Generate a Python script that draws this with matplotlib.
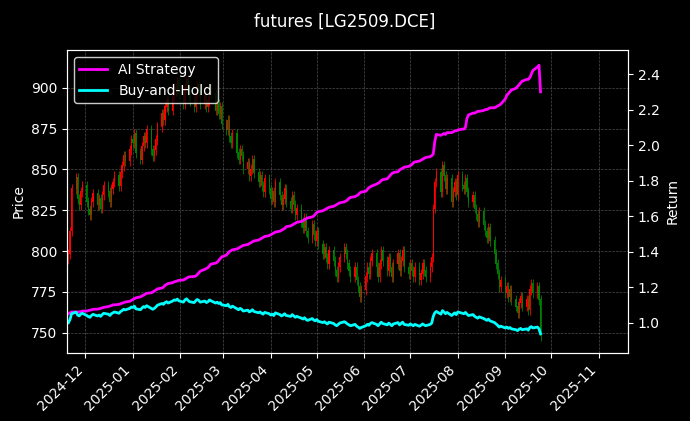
import matplotlib
matplotlib.use("Agg")
import matplotlib.pyplot as plt
import matplotlib.dates as mdates
import numpy as np
import pandas as pd

close = [798, 812, 838, 845, 832,  828, 836, 840, 830, 825,  822, 830, 835, 828, 832,
         826, 834, 840, 836, 830,  838, 842, 846, 840, 848,  852, 858, 855, 862, 868,
         866, 872, 860, 856, 864,  870, 866, 874, 862, 858,  862, 868, 876, 884, 880,
         888, 892, 886, 895, 900,  898, 904, 896, 890, 900,  905, 898, 892, 888, 896,
         902, 898, 890, 895, 888,  892, 900, 896, 886, 890,  884, 888, 878, 874, 880,
         870, 866, 872, 860, 856,  862, 858, 850, 854, 846,  850, 856, 848, 842, 846,
         840, 836, 844, 838, 832,  836, 830, 842, 834, 828,  832, 838, 830, 826, 834,
         828, 822, 826, 818, 814,  820, 812, 808, 816, 810,  806, 812, 804, 798, 802,
         796, 792, 800, 794, 788,  784, 790, 796, 802, 798,  792, 788, 784, 790, 782,
         778, 772, 776, 784, 790,  786, 794, 798, 790, 784,  792, 800, 794, 788, 796,
         790, 784, 792, 798, 788,  794, 800, 790, 786, 792,  788, 784, 790, 782, 786,
         792, 788, 784, 790, 796,  826, 842, 848, 836, 852,  846, 838, 844, 830, 836,
         842, 834, 846, 840, 838,  844, 836, 830, 834, 826,  822, 818, 824, 816, 812,
         808, 814, 806, 798, 792,  786, 778, 782, 774, 778,  772, 776, 770, 766, 762,
         768, 772, 766, 770, 764,  776, 780, 774, 778, 770,  748]
first_open = 795

ai = [1.05, 1.055, 1.06, 1.06, 1.06,  1.06, 1.062, 1.065, 1.065, 1.068,  1.07, 1.072, 1.075, 1.076, 1.078,
      1.08, 1.083, 1.086, 1.09, 1.093,  1.096, 1.10, 1.10, 1.103, 1.106,  1.11, 1.112, 1.116, 1.12, 1.125,
      1.13, 1.135, 1.14, 1.145, 1.15,  1.155, 1.16, 1.165, 1.168, 1.172,  1.178, 1.183, 1.19, 1.195, 1.20,
      1.21, 1.215, 1.22, 1.225, 1.23,  1.232, 1.235, 1.238, 1.24, 1.245,  1.25, 1.255, 1.258, 1.26, 1.262,
      1.27, 1.28, 1.29, 1.30, 1.305,  1.31, 1.32, 1.33, 1.335, 1.34,  1.35, 1.36, 1.37, 1.38, 1.39,
      1.40, 1.405, 1.41, 1.415, 1.42,  1.425, 1.43, 1.435, 1.44, 1.445,  1.45, 1.455, 1.46, 1.465, 1.47,
      1.475, 1.48, 1.485, 1.49, 1.495,  1.50, 1.505, 1.51, 1.515, 1.52,  1.525, 1.53, 1.54, 1.545, 1.55,
      1.555, 1.56, 1.565, 1.57, 1.575,  1.58, 1.585, 1.59, 1.595, 1.60,  1.61, 1.62, 1.625, 1.63, 1.635,
      1.64, 1.645, 1.65, 1.655, 1.66,  1.665, 1.67, 1.675, 1.68, 1.685,  1.69, 1.70, 1.705, 1.71, 1.715,
      1.72, 1.73, 1.735, 1.74, 1.75,  1.76, 1.765, 1.77, 1.78, 1.785,  1.79, 1.80, 1.805, 1.81, 1.82,
      1.83, 1.84, 1.845, 1.85, 1.86,  1.865, 1.87, 1.875, 1.88, 1.885,  1.89, 1.90, 1.905, 1.91, 1.915,
      1.92, 1.925, 1.93, 1.935, 1.94,  1.95, 2.02, 2.06, 2.055, 2.06,  2.065, 2.06, 2.07, 2.07, 2.075,
      2.08, 2.08, 2.085, 2.09, 2.09,  2.10, 2.15, 2.17, 2.18, 2.18,  2.185, 2.19, 2.19, 2.195, 2.20,
      2.20, 2.205, 2.21, 2.21, 2.215,  2.22, 2.225, 2.23, 2.26, 2.28,  2.29, 2.30, 2.31, 2.32, 2.33,
      2.34, 2.35, 2.36, 2.37, 2.37,  2.38, 2.40, 2.42, 2.44, 2.45,  2.30]

n = len(close)
dates = pd.bdate_range("2024-11-20", periods=n)
close = np.array(close, float)
opens = np.concatenate([[first_open], close[:-1]])
bh = close / close[0]

plt.rcParams['font.family'] = ['DejaVu Sans']
fig = plt.figure(figsize=(6.9, 4.21), dpi=100, facecolor='black')
ax = fig.add_axes([0.097, 0.162, 0.813, 0.719], facecolor='black')
x = mdates.date2num(dates)
up = close >= opens
cols = np.where(up, 'red', 'green')
hi = np.maximum(opens, close) + 3
lo = np.minimum(opens, close) - 3
ax.vlines(x, lo, hi, colors=cols, linewidth=0.6)
ax.bar(x, np.abs(close - opens) + 0.5, bottom=np.minimum(opens, close), width=0.8, color=cols)
ax.set_ylim(737.7, 923)
ax.set_xlim(mdates.date2num(pd.Timestamp("2024-11-19")), mdates.date2num(pd.Timestamp("2025-11-20")))
ax.set_ylabel("Price", color='white')
ax.grid(True, color='gray', linestyle='--', linewidth=0.5, alpha=0.6)

ax2 = ax.twinx()
l1, = ax2.plot(x, ai, color='magenta', lw=2, label='AI Strategy')
l2, = ax2.plot(x, bh, color='cyan', lw=2, label='Buy-and-Hold')
ax2.set_ylim(0.83, 2.535)
ax2.set_ylabel("Return", color='white')

for a in (ax, ax2):
    a.tick_params(colors='white')
    for s in a.spines.values():
        s.set_color('white')
ax.xaxis.set_major_locator(mdates.MonthLocator())
ax.xaxis.set_major_formatter(mdates.DateFormatter('%Y-%m'))
plt.setp(ax.get_xticklabels(), rotation=45, ha='right')
leg = ax2.legend(handles=[l1, l2], loc='upper left', facecolor='black', edgecolor='white')
for t in leg.get_texts():
    t.set_color('white')
fig.suptitle("futures [LG2509.DCE]", color='white', y=0.97, fontsize=12)
fig.savefig("out.png", dpi=100, facecolor='black')
